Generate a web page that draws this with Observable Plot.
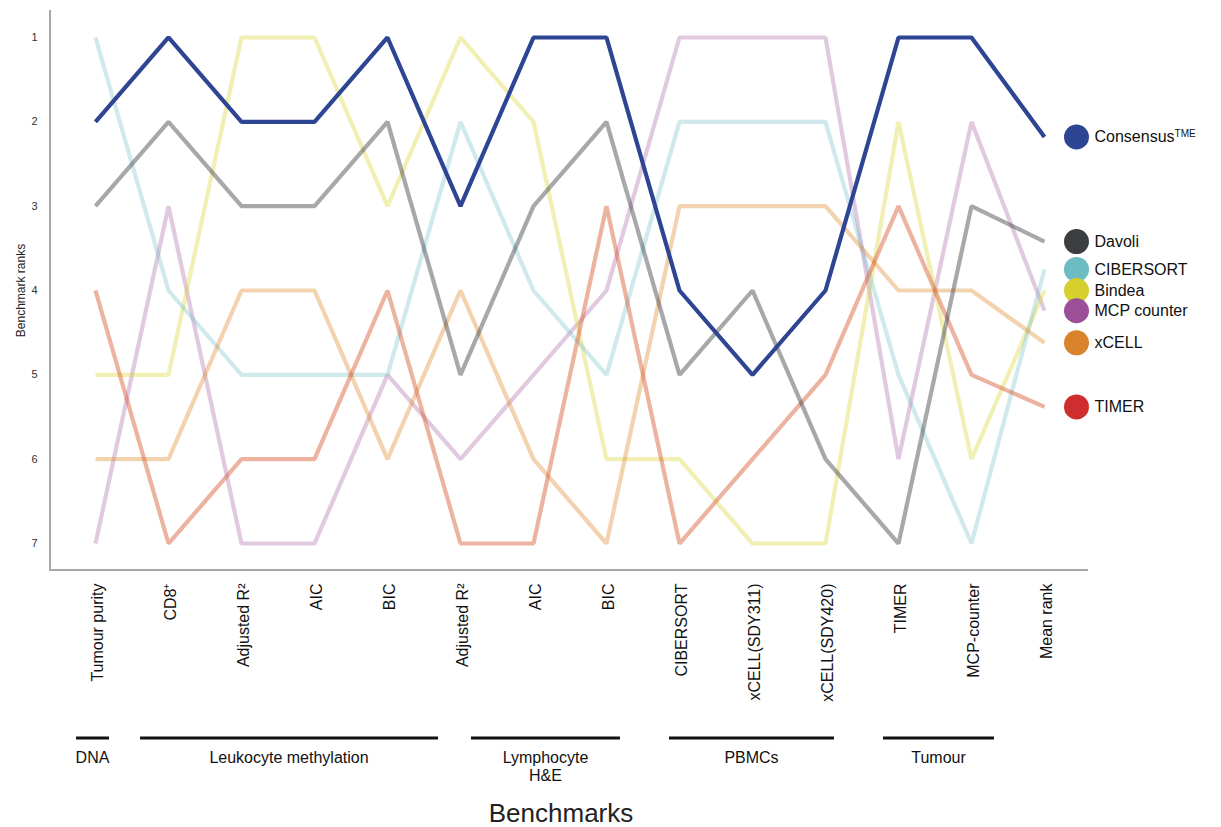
<!DOCTYPE html>
<html><head><meta charset="utf-8">
<script src="https://cdn.jsdelivr.net/npm/d3@7"></script>
<script src="https://cdn.jsdelivr.net/npm/@observablehq/plot@0.6"></script>
<style>
body{margin:0;background:#fff;}
svg{font-family:"Liberation Sans",Arial,Helvetica,sans-serif;}
</style>
</head><body><div id="chart"></div>
<script>
// Benchmarks (x categories, in order)
const benchmarks = ["Tumour purity","CD8⁺","Adjusted R²","AIC","BIC","Adjusted R²","AIC","BIC",
  "CIBERSORT","xCELL(SDY311)","xCELL(SDY420)","TIMER","MCP-counter","Mean rank"];
const rankTicks = [1,2,3,4,5,6,7];

// Methods
const methods = ["Consensus","Davoli","CIBERSORT","Bindea","MCP counter","xCELL","TIMER"];
const methodColors = ["#2e4593","#3b3d40","#6cbcc4","#d5d02c","#9b4f98","#d9842c","#cf2e2e"];
const lineColors   = ["#2e4593","#3b3d40","#6cbcc4","#d8d22e","#9b4f98","#e0892e","#d8562f"];

// Ranks per benchmark (last value = mean rank)
const consensus = [2,1,2,2,1,3,1,1,4,5,4,1,1,2.18];
const davoli    = [3,2,3,3,2,5,3,2,5,4,6,7,3,3.42];
const cibersort = [1,4,5,5,5,2,4,5,2,2,2,5,7,3.75];
const bindea    = [5,5,1,1,3,1,2,6,6,7,7,2,6,4.0];
const mcp       = [7,3,7,7,5,6,5,4,1,1,1,6,2,4.24];
const xcell     = [6,6,4,4,6,4,6,7,3,3,3,4,4,4.62];
const timer     = [4,7,6,6,4,7,7,3,7,6,5,3,5,5.38];
const series = [consensus, davoli, cibersort, bindea, mcp, xcell, timer];

// Benchmark groups
const groups = ["DNA","Leukocyte methylation","Lymphocyte|H&E","PBMCs","Tumour"];
const groupStart = [0,1,5,8,11];
const groupEnd = [0,4,7,10,12];

// Build tidy table
const rows = [];
methods.forEach((m, k) => series[k].forEach((v, i) => rows.push({method: m, i, rank: v})));
const legendRows = methods.map((m, k) => ({method: m, i: benchmarks.length - 1, rank: series[k][series[k].length - 1]}));

const opacity = {"Consensus":1,"Davoli":0.45,"CIBERSORT":0.33,"Bindea":0.36,"MCP counter":0.3,"xCELL":0.38,"TIMER":0.45};
const drawOrder = ["MCP counter","Bindea","CIBERSORT","xCELL","TIMER","Davoli","Consensus"];

const plot = Plot.plot({
  width: 1221, height: 827,
  marginLeft: 50, marginRight: 133, marginTop: 10, marginBottom: 257,
  style: {fontFamily: "Liberation Sans, Arial, Helvetica, sans-serif", background: "#fff", overflow: "visible"},
  x: {type: "point", domain: d3.range(benchmarks.length), padding: 0.59},
  y: {domain: [0.68, 7.32], reverse: true},
  color: {domain: methods, range: methodColors},
  marks: [
    Plot.axisY({ticks: rankTicks, tickFormat: d3.format("d"), tickSize: 0, tickPadding: 13, fontSize: 11,
      color: "#333", label: null}),
    Plot.axisY({ticks: [], label: "Benchmark ranks", labelAnchor: "center", labelOffset: 34,
      fontSize: 12, color: "#222", labelArrow: "none"}),
    Plot.axisX({tickFormat: i => benchmarks[i], tickSize: 0, tickPadding: 13, rotate: -90, dx: -4,
      textAnchor: "end", fontSize: 16, color: "#111", label: null}),
    ...drawOrder.map(m => Plot.line(rows.filter(d => d.method === m), {
      x: "i", y: "rank", stroke: lineColors[methods.indexOf(m)], strokeWidth: 4.2, strokeOpacity: opacity[m],
      strokeLinejoin: "miter", strokeLinecap: "butt"})),
    Plot.dot(legendRows, {x: "i", y: "rank", fill: "method", r: 12.5, dx: 32}),
    Plot.text(legendRows, {x: "i", y: "rank", text: "method", dx: 50, textAnchor: "start",
      fontSize: 16, fill: "#111"})
  ]
});

const svg = d3.select(plot);
// superscript on Consensus
svg.selectAll("text").filter(function() { return this.textContent === "Consensus"; })
  .append("tspan").attr("dy", "-0.55em").attr("font-size", 10).text("TME");

// Axis lines along the frame edges
const xs = plot.scale("x"), ys = plot.scale("y");
const [fx0, fx1] = [50, 1221 - 133];
const [fy0, fy1] = d3.extent(ys.range);
svg.insert("path", ":first-child")
  .attr("d", `M${fx0},${fy0}V${fy1}H${fx1}`)
  .attr("fill", "none").attr("stroke", "#a8a8a8").attr("stroke-width", 2);

// Benchmark group annotations
const padL = [19, 28, -11, 10, 15], padR = [14, 51, 14, 9, 23];
const g = svg.append("g").attr("font-size", 16).attr("fill", "#111").attr("text-anchor", "middle");
groups.forEach((name, k) => {
  const x1 = xs.apply(groupStart[k]) - padL[k], x2 = xs.apply(groupEnd[k]) + padR[k];
  g.append("line").attr("x1", x1).attr("x2", x2).attr("y1", 738).attr("y2", 738)
    .attr("stroke", "#111").attr("stroke-width", 3);
  const t = g.append("text").attr("x", (x1 + x2) / 2).attr("y", 763);
  name.split("|").forEach((part, j) => {
    t.append("tspan").attr("x", (x1 + x2) / 2).attr("dy", j === 0 ? 0 : 18).text(part);
  });
});
svg.append("text").attr("x", 561).attr("y", 822).attr("text-anchor", "middle")
  .attr("font-size", 26).attr("fill", "#222").text("Benchmarks");

document.getElementById("chart").appendChild(plot);
</script>
</body></html>
